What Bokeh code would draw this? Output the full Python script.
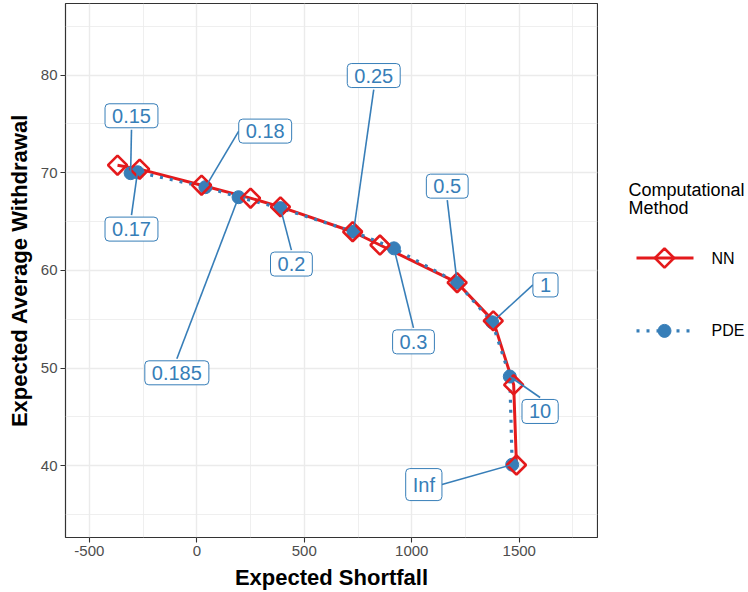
from bokeh.plotting import figure
from bokeh.layouts import row
from bokeh.models import Range1d, FixedTicker, ColumnDataSource
from bokeh.core.properties import value
from bokeh.embed import file_html
from bokeh.resources import INLINE

# Risk-aversion levels along the frontier
kappa = ["0.15", "0.17", "0.18", "0.185", "0.2", "0.25", "0.3", "0.5", "1", "10", "Inf"]

# Neural-network solution
nn_es = [-369, -266, 22, 250, 389, 725, 852, 1211, 1379, 1474, 1487]
nn_ew = [70.78, 70.37, 68.73, 67.40, 66.51, 63.96, 62.60, 58.74, 54.83, 48.28, 40.07]

# PDE solution
pde_es = [-308, -276, 40, 194, 389, 729, 917, 1211, 1374, 1456, 1467]
pde_ew = [69.96, 70.06, 68.53, 67.50, 66.38, 63.96, 62.26, 58.74, 54.69, 49.13, 40.10]

# Where each kappa tag sits (data coordinates of the tag centre)
tag_x = [-304, -304, 318, -93, 440, 823, 1008, 1165, 1622, 1597, 1056]
tag_y = [75.84, 64.23, 74.27, 49.51, 60.65, 79.96, 52.68, 68.63, 58.51, 45.55, 38.06]

x_ticks = [-500, 0, 500, 1000, 1500]
y_ticks = [40, 50, 60, 70, 80]

methods = ["NN", "PDE"]
legend_title = ["Computational", "Method"]

RED = "#E41A1C"
BLUE = "#377EB8"
FONT = "Liberation Sans"

X0, X1 = -611, 1864
Y0, Y1 = 32.64, 87.34
FW, FH = 532, 535
L, R, T, B = 65, 1, 3, 54
W_TOTAL, H_TOTAL = 748, 592

p = figure(width=L + FW + R, height=T + FH + B, output_backend="svg",
           toolbar_location=None, x_range=Range1d(X0, X1), y_range=Range1d(Y0, Y1),
           min_border_left=L, min_border_right=R, min_border_top=T, min_border_bottom=B)
p.background_fill_color = "white"
p.border_fill_color = "white"
p.outline_line_color = "#333333"
p.outline_line_width = 1.2

p.xaxis.ticker = FixedTicker(ticks=x_ticks, minor_ticks=[-250, 250, 750, 1250, 1750])
p.yaxis.ticker = FixedTicker(ticks=y_ticks, minor_ticks=[35, 45, 55, 65, 75, 85])
p.xaxis.major_label_overrides = {t: str(t) for t in x_ticks}
for ax in (p.xaxis, p.yaxis):
    ax.axis_line_color = None
    ax.major_tick_line_color = "#333333"
    ax.major_tick_line_width = 1.1
    ax.major_tick_out = 5
    ax.major_tick_in = 0
    ax.minor_tick_line_color = None
    ax.major_label_text_font = FONT
    ax.major_label_text_font_size = "15px"
    ax.major_label_text_color = "#4D4D4D"
    ax.major_label_standoff = 3
    ax.axis_label_text_font = FONT
    ax.axis_label_text_font_size = "22px"
    ax.axis_label_text_font_style = "bold"
    ax.axis_label_text_color = "black"
    ax.axis_label_standoff = 6
p.xaxis.axis_label = "Expected Shortfall"
p.yaxis.axis_label = "Expected Average Withdrawal"

for g in (p.xgrid, p.ygrid):
    g.grid_line_color = "#EBEBEB"
    g.grid_line_width = 1.4
    g.minor_grid_line_color = "#EBEBEB"
    g.minor_grid_line_width = 0.8

src_nn = ColumnDataSource(dict(x=nn_es, y=nn_ew))
src_pde = ColumnDataSource(dict(x=pde_es, y=pde_ew, k=kappa))

NN_LINE = dict(line_color=RED, line_width=3)
PDE_LINE = dict(line_color=BLUE, line_width=3.2, line_dash="3 7", line_cap="butt")
PDE_PT = dict(marker="circle", size=13, fill_color=BLUE, line_color=BLUE)
NN_PT = dict(marker="square", angle=0.785398, size=13.5, fill_color=None,
             line_color=RED, line_width=2.6)

p.line("x", "y", source=src_nn, **NN_LINE)
p.line("x", "y", source=src_pde, **PDE_LINE)
p.scatter("x", "y", source=src_pde, **PDE_PT)
p.scatter("x", "y", source=src_nn, **NN_PT)

# Leader lines: from the nearest edge midpoint of each tag box to its PDE point
sx = FW / (X1 - X0)
sy = FH / (Y1 - Y0)
FS = 20
PAD_X, PAD_Y, HALF_H = 7, 5, 14
cw = {".": 0.278, "I": 0.278, "n": 0.556, "f": 0.278}


def half_width(s):
    return (sum(cw.get(c, 0.556) for c in s) * FS) / 2 + PAD_X


x0s, y0s = [], []
for k, lx, ly, px, py in zip(kappa, tag_x, tag_y, pde_es, pde_ew):
    hw = half_width(k) / sx
    hh = HALF_H / sy
    cands = [(lx - hw, ly), (lx + hw, ly), (lx, ly - hh), (lx, ly + hh)]
    best = min(cands, key=lambda c: ((c[0] - px) * sx) ** 2 + ((c[1] - py) * sy) ** 2)
    x0s.append(best[0])
    y0s.append(best[1])

p.segment(x0=x0s, y0=y0s, x1=pde_es, y1=pde_ew, line_color=BLUE, line_width=1.6)

p.text(x=tag_x, y=tag_y, text=kappa, text_font=value(FONT), text_font_size=f"{FS}px",
       text_color=BLUE, text_align="center", text_baseline="middle",
       background_fill_color="white", border_line_color=BLUE, border_line_width=1,
       padding=(PAD_X, PAD_Y), border_radius=4)

# Legend panel: a pixel-space canvas to the right of the plot.  Its frame is
# aligned with the plot frame by the row layout, so map it to page pixels.
LW = W_TOTAL - (L + FW + R)
OFF = L + FW + R
leg = figure(width=LW, height=H_TOTAL, output_backend="svg", toolbar_location=None,
             x_range=Range1d(OFF, W_TOTAL), y_range=Range1d(T + FH, T),
             x_axis_type=None, y_axis_type=None,
             min_border_left=0, min_border_right=0, min_border_top=T, min_border_bottom=B)
leg.grid.visible = False
leg.outline_line_color = None
leg.background_fill_color = "white"
leg.border_fill_color = "white"

TITLE_X, TITLE_Y, TITLE_DY = 628, 190, 18.3
KEY_X0, KEY_X1, KEY_C, LABEL_X = 636, 693, 664, 711
KEY_Y = [258, 331]

leg.text(x=[TITLE_X] * len(legend_title),
         y=[TITLE_Y + i * TITLE_DY for i in range(len(legend_title))],
         text=legend_title, text_font=value(FONT), text_font_size="18px",
         text_color="black", text_align="left", text_baseline="alphabetic")

leg.line([KEY_X0, KEY_X1], [KEY_Y[0]] * 2, **NN_LINE)
leg.scatter([KEY_C], [KEY_Y[0]], **NN_PT)
leg.line([KEY_X0, KEY_X1], [KEY_Y[1]] * 2, **PDE_LINE)
leg.scatter([KEY_C], [KEY_Y[1]], **PDE_PT)
leg.text(x=[LABEL_X] * len(methods), y=KEY_Y, text=methods, text_font=value(FONT),
         text_font_size="16px", text_color="black", text_align="left",
         text_baseline="middle")

layout = row(p, leg, spacing=0)
open("out.html", "w").write(file_html(layout, INLINE))
